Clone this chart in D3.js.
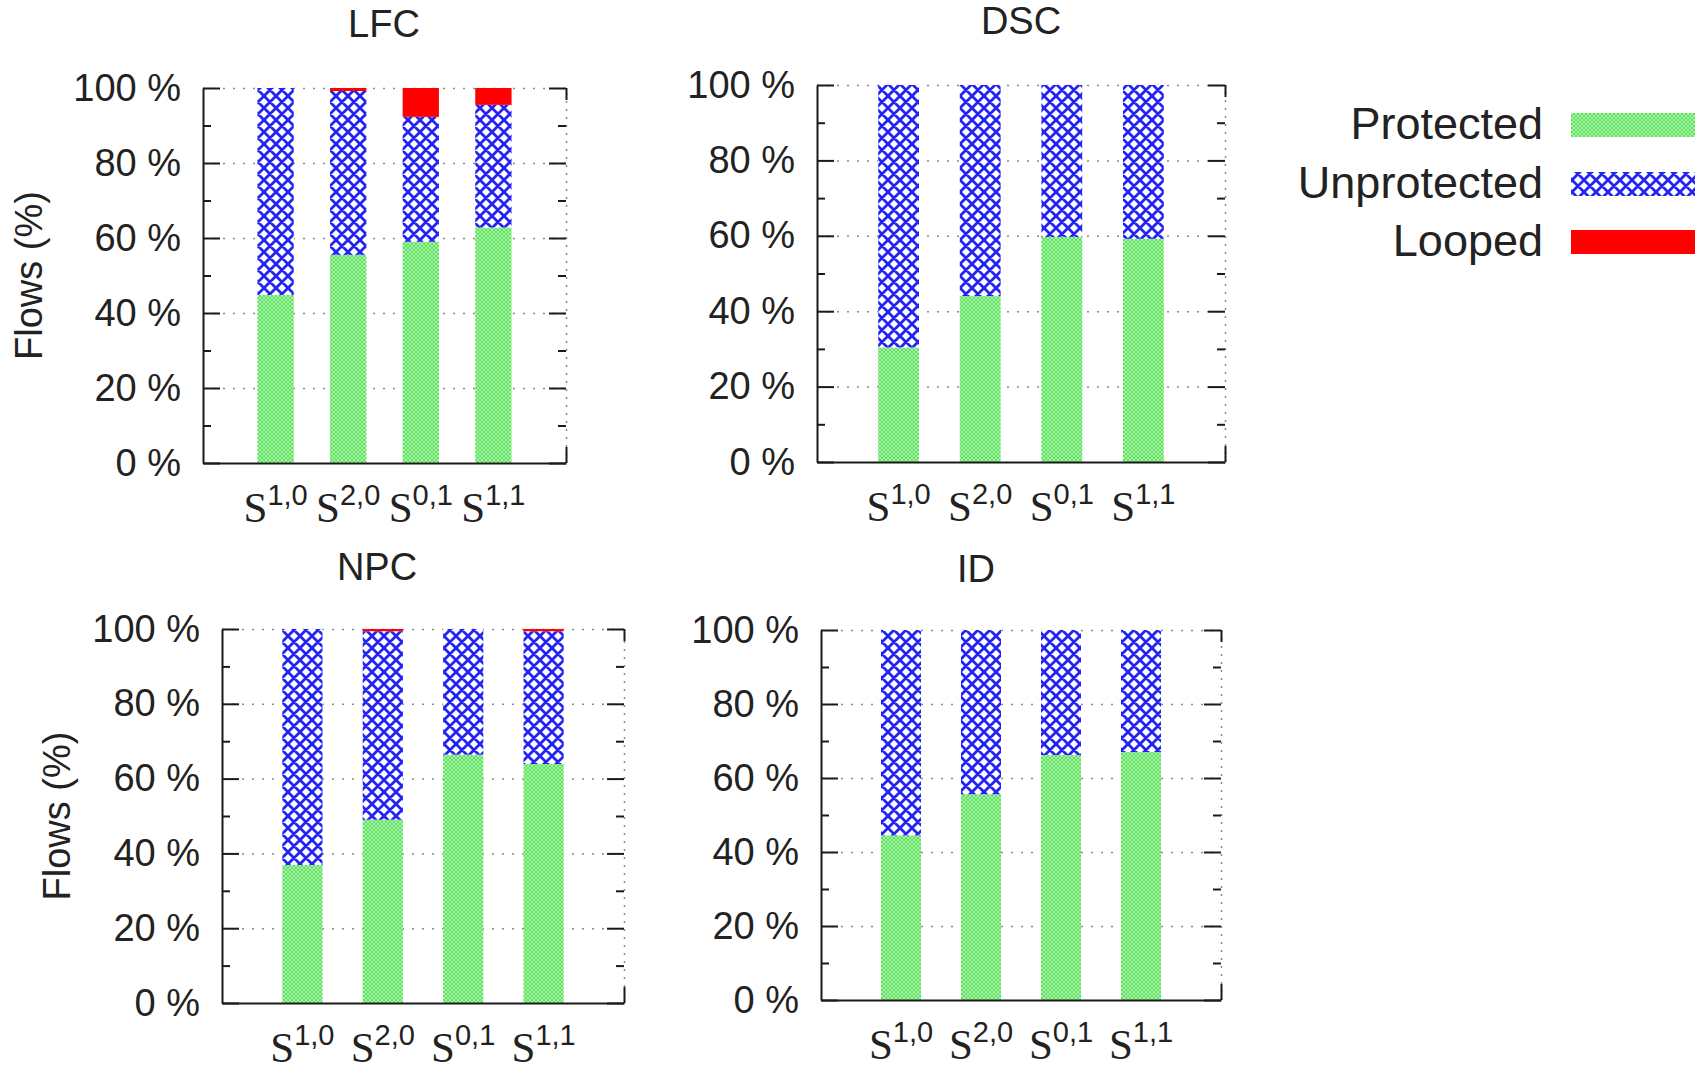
<!DOCTYPE html>
<html>
<head>
<meta charset="utf-8">
<script src="https://cdn.jsdelivr.net/npm/d3@7"></script>
<style>
  body { margin: 0; background: #fff; }
  text { font-family: 'Liberation Sans', Arial, sans-serif; fill: #222; }
</style>
</head>
<body>
<script>
// x categories: superscripts of S
const schemes = ['1,0', '2,0', '0,1', '1,1']
const seriesNames = ['Protected', 'Unprotected', 'Looped']
const yTicks = [0, 20, 40, 60, 80, 100]
const yMinorTicks = [10, 30, 50, 70, 90]

// values in % of flows
const lfcProtected = [44.8, 55.5, 59.0, 62.8]
const lfcUnprotected = [55.2, 43.7, 33.3, 32.7]
const lfcLooped = [0, 0.8, 7.7, 4.5]

const dscProtected = [30.4, 44.0, 59.7, 59.2]
const dscUnprotected = [69.6, 56.0, 40.3, 40.8]
const dscLooped = [0, 0, 0, 0]

const npcProtected = [36.9, 49.0, 66.4, 63.9]
const npcUnprotected = [63.1, 50.4, 33.6, 35.5]
const npcLooped = [0, 0.6, 0, 0.6]

const idProtected = [44.5, 55.6, 66.2, 67.0]
const idUnprotected = [55.5, 44.4, 33.8, 33.0]
const idLooped = [0, 0, 0, 0]

const width = 1706
const height = 1065

const svg = d3.select('body').append('svg')
  .attr('width', width)
  .attr('height', height)

// fill patterns (gnuplot-like)
const defs = svg.append('defs')
const green = defs.append('pattern')
  .attr('id', 'pat-green')
  .attr('patternUnits', 'userSpaceOnUse')
  .attr('width', 4).attr('height', 4)
green.append('rect').attr('width', 4).attr('height', 4).attr('fill', '#a6f4a6')
green.append('path').attr('d', 'M0,0L4,4M4,0L0,4')
  .attr('stroke', '#62e062').attr('stroke-width', 1)

const blue = defs.append('pattern')
  .attr('id', 'pat-blue')
  .attr('patternUnits', 'userSpaceOnUse')
  .attr('width', 12).attr('height', 12)
blue.append('rect').attr('width', 12).attr('height', 12).attr('fill', '#fff')
blue.append('path').attr('d', 'M0,0L12,12M12,0L0,12M-6,6L6,18M6,-6L18,6M6,-6L-6,6M18,6L6,18')
  .attr('stroke', '#2424f2').attr('stroke-width', 2.8)

const fills = {
  Protected: 'url(#pat-green)',
  Unprotected: 'url(#pat-blue)',
  Looped: '#ff0000'
}

const panels = [
  { title: 'LFC', values: [lfcProtected, lfcUnprotected, lfcLooped],
    box: { l: 203, r: 566, t: 88, b: 463 }, titleX: 384, titleY: 37, ylabelX: 42 },
  { title: 'DSC', values: [dscProtected, dscUnprotected, dscLooped],
    box: { l: 817, r: 1225, t: 85, b: 462 }, titleX: 1021, titleY: 34, ylabelX: null },
  { title: 'NPC', values: [npcProtected, npcUnprotected, npcLooped],
    box: { l: 222, r: 624, t: 629, b: 1003 }, titleX: 377, titleY: 580, ylabelX: 70 },
  { title: 'ID', values: [idProtected, idUnprotected, idLooped],
    box: { l: 821, r: 1221, t: 630, b: 1000 }, titleX: 976, titleY: 582, ylabelX: null }
]

const axisColor = '#1a1a1a'

const styleAxis = (g) => {
  g.selectAll('line').attr('stroke', axisColor).attr('stroke-width', 2)
  g.selectAll('path.domain').attr('stroke', axisColor).attr('stroke-width', 2)
}

panels.forEach((p) => {
  const { l, r, t, b } = p.box
  const x = d3.scaleLinear().domain([0, 5]).range([l, r])
  const y = d3.scaleLinear().domain([0, 100]).range([b, t])
  const g = svg.append('g').attr('class', 'panel')

  // dotted grid
  g.append('g')
    .attr('transform', 'translate(' + l + ',0)')
    .call(d3.axisLeft(y).tickValues(yTicks.slice(1)).tickSize(-(r - l)).tickFormat(''))
    .call(a => a.select('.domain').remove())
    .selectAll('line')
    .attr('stroke', '#8a8a8a').attr('stroke-width', 1.5).attr('stroke-dasharray', '2,8')
  g.append('g')
    .attr('transform', 'translate(0,' + b + ')')
    .call(d3.axisBottom(x).tickValues([5]).tickSize(-(b - t)).tickFormat(''))
    .call(a => a.select('.domain').remove())
    .selectAll('line')
    .attr('stroke', '#8a8a8a').attr('stroke-width', 1.5).attr('stroke-dasharray', '2,6')

  // stacked bars
  const rows = schemes.map((s, i) => ({
    scheme: s,
    Protected: p.values[0][i],
    Unprotected: p.values[1][i],
    Looped: p.values[2][i]
  }))
  const stacked = d3.stack().keys(seriesNames)(rows)
  const barW = x(0.5) - x(0)

  g.selectAll('g.layer')
    .data(stacked)
    .enter()
    .append('g')
    .attr('class', 'layer')
    .attr('fill', d => fills[d.key])
    .selectAll('rect')
    .data(d => d.filter(v => v[1] - v[0] > 0))
    .enter()
    .append('rect')
    .attr('x', d => x(schemes.indexOf(d.data.scheme) + 1) - barW / 2)
    .attr('width', barW)
    .attr('y', d => y(d[1]))
    .attr('height', d => y(d[0]) - y(d[1]))

  // left axis with labels, ticks inward
  g.append('g')
    .attr('transform', 'translate(' + l + ',0)')
    .call(d3.axisLeft(y).tickValues(yTicks).tickSizeInner(-17).tickSizeOuter(0)
      .tickPadding(22).tickFormat(d => d + ' %'))
    .call(styleAxis)
    .call(a => a.selectAll('text')
      .attr('font-size', 38)
      .attr('font-family', "'Liberation Sans', Arial, sans-serif")
      .attr('fill', '#222'))
    .attr('font-size', null).attr('font-family', null)
  g.append('g')
    .attr('transform', 'translate(' + l + ',0)')
    .call(d3.axisLeft(y).tickValues(yMinorTicks).tickSize(-8).tickFormat(''))
    .call(a => a.select('.domain').remove())
    .call(styleAxis)

  // mirrored ticks on the right
  g.append('g')
    .attr('transform', 'translate(' + r + ',0)')
    .call(d3.axisRight(y).tickValues(yTicks).tickSize(-17).tickFormat(''))
    .call(a => a.select('.domain').remove())
    .call(styleAxis)
  g.append('g')
    .attr('transform', 'translate(' + r + ',0)')
    .call(d3.axisRight(y).tickValues(yMinorTicks).tickSize(-8).tickFormat(''))
    .call(a => a.select('.domain').remove())
    .call(styleAxis)

  // bottom border and corner ticks
  g.append('g')
    .attr('transform', 'translate(0,' + b + ')')
    .call(d3.axisBottom(x).tickValues([5]).tickSizeInner(-16).tickSizeOuter(0).tickFormat(''))
    .call(styleAxis)
  g.append('g')
    .attr('transform', 'translate(0,' + t + ')')
    .call(d3.axisTop(x).tickValues([5]).tickSize(-12).tickFormat(''))
    .call(a => a.select('.domain').remove())
    .call(styleAxis)

  // x labels S^{a,b}
  const xl = g.selectAll('text.xlabel')
    .data(schemes)
    .enter()
    .append('text')
    .attr('class', 'xlabel')
    .attr('x', (d, i) => x(i + 1))
    .attr('y', b + 59)
    .attr('text-anchor', 'middle')
  xl.append('tspan')
    .style('font-family', "'Liberation Serif', 'Times New Roman', serif")
    .attr('font-size', 43)
    .text('S')
  xl.append('tspan')
    .attr('font-size', 29)
    .attr('dy', -17)
    .text(d => d)

  // title
  g.append('text')
    .attr('x', p.titleX)
    .attr('y', p.titleY)
    .attr('text-anchor', 'middle')
    .attr('font-size', 38)
    .text(p.title)

  if (p.ylabelX !== null) {
    g.append('text')
      .attr('transform', 'translate(' + p.ylabelX + ',' + ((t + b) / 2) + ') rotate(-90)')
      .attr('text-anchor', 'middle')
      .attr('font-size', 38)
      .text('Flows (%)')
  }
})

// legend
const legendY = [139, 198, 256]
const legend = svg.append('g').attr('class', 'legend')
  .selectAll('g')
  .data(seriesNames)
  .enter()
  .append('g')
legend.append('text')
  .attr('x', 1543)
  .attr('y', (d, i) => legendY[i])
  .attr('text-anchor', 'end')
  .attr('font-size', 45)
  .text(d => d)
legend.append('rect')
  .attr('x', 1571)
  .attr('y', (d, i) => legendY[i] - 26)
  .attr('width', 124)
  .attr('height', 24)
  .attr('fill', d => fills[d])
</script>
</body>
</html>
